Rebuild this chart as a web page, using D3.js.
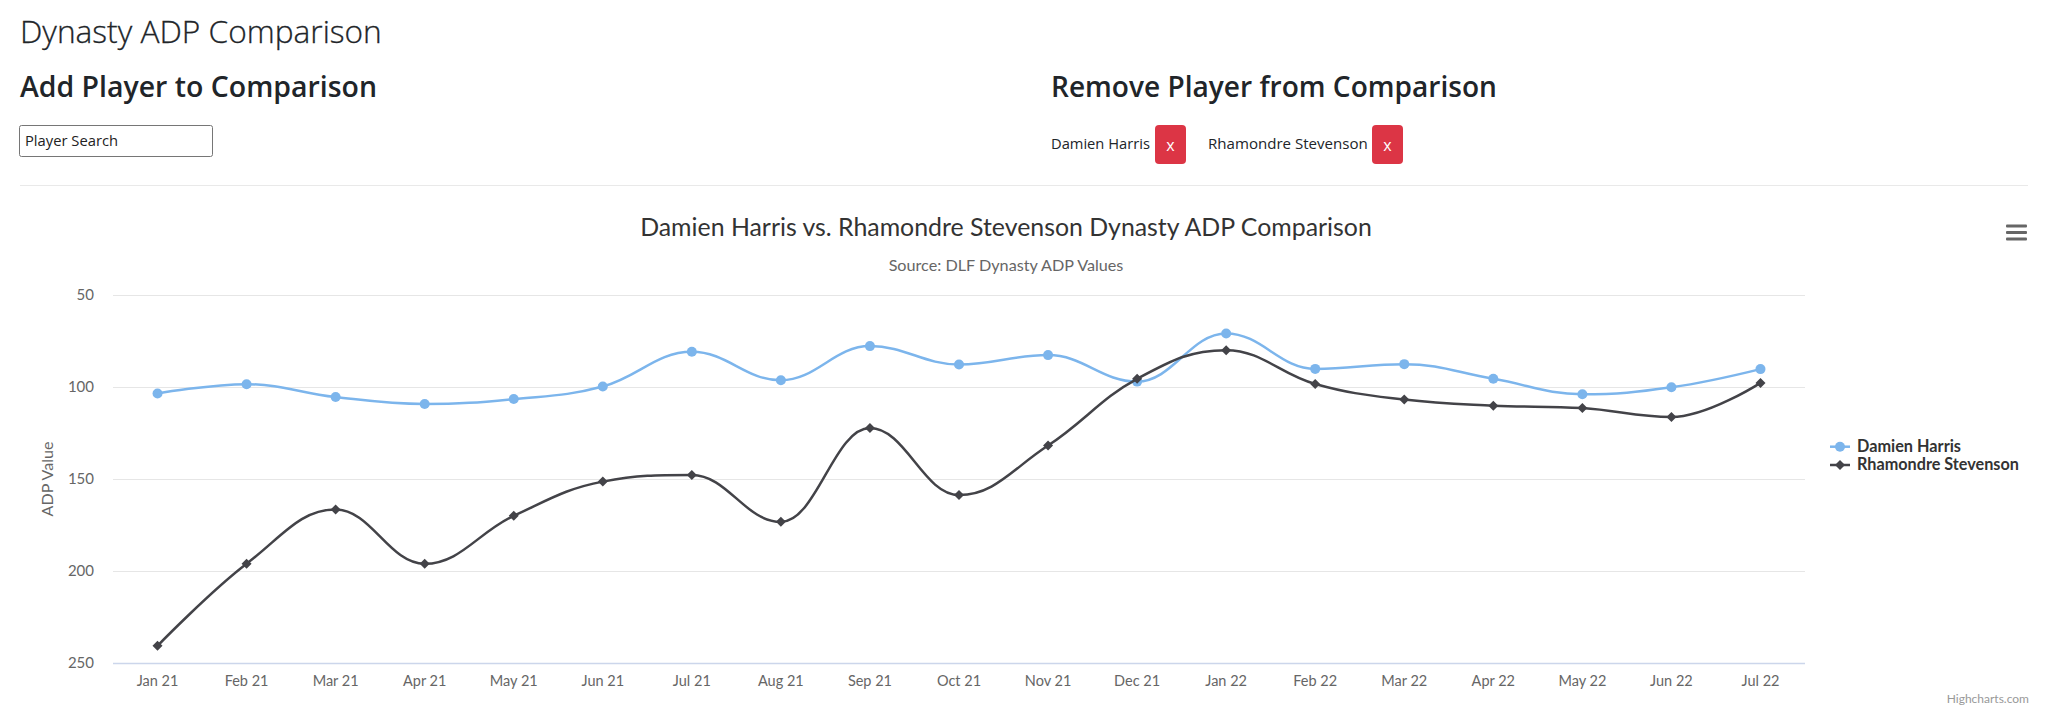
<!DOCTYPE html>
<html>
<head>
<meta charset="utf-8">
<script src="https://cdn.jsdelivr.net/npm/d3@7"></script>
<style>
  html, body { margin: 0; padding: 0; background: #fff; }
  svg { display: block; }
</style>
</head>
<body>
<script>
// ---------- data ----------
const categories = ["Jan 21","Feb 21","Mar 21","Apr 21","May 21","Jun 21","Jul 21","Aug 21","Sep 21","Oct 21","Nov 21","Dec 21","Jan 22","Feb 22","Mar 22","Apr 22","May 22","Jun 22","Jul 22"];
const harrisValues = [103.6, 98.5, 105.5, 109.3, 106.6, 99.8, 80.9, 96.4, 77.8, 87.8, 82.7, 97.1, 70.9, 90.2, 87.6, 95.6, 104.0, 100.2, 90.3];
const stevensonValues = [240.8, 196.2, 166.7, 196.2, 170.1, 151.5, 147.9, 173.4, 122.4, 158.8, 131.9, 95.6, 80.0, 98.4, 106.9, 110.2, 111.5, 116.4, 97.8];
const seriesNames = ["Damien Harris", "Rhamondre Stevenson"];
const yTicks = [50, 100, 150, 200, 250];
const pageTitle = "Dynasty ADP Comparison";
const addHeading = "Add Player to Comparison";
const removeHeading = "Remove Player from Comparison";
const searchPlaceholder = "Player Search";
const chartTitle = "Damien Harris vs. Rhamondre Stevenson Dynasty ADP Comparison";
const chartSubtitle = "Source: DLF Dynasty ADP Values";
const yAxisTitle = "ADP Value";
const creditText = "Highcharts.com";

// ---------- helpers ----------
const W = 2048, H = 718;
const svg = d3.select("body").append("svg").attr("width", W).attr("height", H);

function fit(sel, width) {
  const base = parseFloat(sel.attr("font-size"));
  const len = sel.node().getComputedTextLength();
  if (len > 0) sel.attr("font-size", (base * width / len).toFixed(2));
  return sel;
}

// Highcharts-like spline as a d3 curve
function HCSpline(context) { this._context = context; }
HCSpline.prototype = {
  areaStart() { this._line = 0; },
  areaEnd() { this._line = NaN; },
  lineStart() { this._pts = []; },
  point(x, y) { this._pts.push([+x, +y]); },
  lineEnd() {
    const p = this._pts, n = p.length, ctx = this._context;
    if (!n) return;
    const sm = 1.5, den = sm + 1;
    const lc = new Array(n), rc = new Array(n);
    for (let i = 1; i < n - 1; i++) {
      const [lx, ly] = p[i - 1], [x, y] = p[i], [nx, ny] = p[i + 1];
      let lcx = (sm * x + lx) / den, lcy = (sm * y + ly) / den;
      let rcx = (sm * x + nx) / den, rcy = (sm * y + ny) / den;
      if (rcx !== lcx) {
        const corr = ((rcy - lcy) * (rcx - x)) / (rcx - lcx) + y - rcy;
        lcy += corr; rcy += corr;
      }
      if (lcy > ly && lcy > y) { lcy = Math.max(ly, y); rcy = 2 * y - lcy; }
      else if (lcy < ly && lcy < y) { lcy = Math.min(ly, y); rcy = 2 * y - lcy; }
      if (rcy > ny && rcy > y) { rcy = Math.max(ny, y); lcy = 2 * y - rcy; }
      else if (rcy < ny && rcy < y) { rcy = Math.min(ny, y); lcy = 2 * y - rcy; }
      lc[i] = [lcx, lcy]; rc[i] = [rcx, rcy];
    }
    ctx.moveTo(p[0][0], p[0][1]);
    for (let i = 1; i < n; i++) {
      const a = rc[i - 1] || p[i - 1], b = lc[i] || p[i];
      ctx.bezierCurveTo(a[0], a[1], b[0], b[1], p[i][0], p[i][1]);
    }
  }
};
const hcSpline = ctx => new HCSpline(ctx);

// ---------- page header ----------
const pageFont = "'Open Sans', 'Noto Sans', sans-serif";
fit(svg.append("text").attr("x", 20).attr("y", 43).attr("font-family", pageFont)
  .attr("font-weight", 300).attr("font-size", 32).attr("fill", "#212529").attr("stroke", "#212529").attr("stroke-width", 0.3).text(pageTitle), 362);
fit(svg.append("text").attr("x", 20).attr("y", 96.5).attr("font-family", pageFont)
  .attr("font-weight", 600).attr("font-size", 28).attr("fill", "#212529").text(addHeading), 357);
fit(svg.append("text").attr("x", 1051).attr("y", 96.5).attr("font-family", pageFont)
  .attr("font-weight", 600).attr("font-size", 28).attr("fill", "#212529").text(removeHeading), 446);

svg.append("rect").attr("x", 19.5).attr("y", 125.5).attr("width", 193).attr("height", 31)
  .attr("rx", 2).attr("fill", "#fff").attr("stroke", "#767676").attr("stroke-width", 1);
fit(svg.append("text").attr("x", 25).attr("y", 146).attr("font-family", pageFont)
  .attr("font-size", 13.3).attr("fill", "#222").text(searchPlaceholder), 93);

const chips = [
  { name: seriesNames[0], x: 1051, w: 99, bx: 1155 },
  { name: seriesNames[1], x: 1208, w: 160, bx: 1372 }
];
chips.forEach(c => {
  fit(svg.append("text").attr("x", c.x).attr("y", 149).attr("font-family", pageFont)
    .attr("font-size", 15).attr("fill", "#212529").text(c.name), c.w);
  svg.append("rect").attr("x", c.bx).attr("y", 125).attr("width", 31).attr("height", 39)
    .attr("rx", 4).attr("fill", "#dc3545");
  svg.append("text").attr("x", c.bx + 15.5).attr("y", 151).attr("text-anchor", "middle")
    .attr("font-family", pageFont).attr("font-size", 16).attr("fill", "#fff").text("x");
});

svg.append("line").attr("x1", 20).attr("x2", 2028).attr("y1", 185.5).attr("y2", 185.5)
  .attr("stroke", "#e9e9e9").attr("stroke-width", 1);

// ---------- chart ----------
const chartFont = "Lato, 'Open Sans', sans-serif";
const plot = { left: 113, right: 1805, top: 295, bottom: 662.7 };

fit(svg.append("text").attr("x", 1006).attr("y", 236).attr("text-anchor", "middle")
  .attr("font-family", chartFont).attr("font-size", 24).attr("fill", "#333333").text(chartTitle), 732);
fit(svg.append("text").attr("x", 1006).attr("y", 271).attr("text-anchor", "middle")
  .attr("font-family", chartFont).attr("font-size", 15).attr("fill", "#666666").text(chartSubtitle), 235);

// hamburger
[224.5, 231, 237.5].forEach(y => svg.append("rect").attr("x", 2006).attr("y", y)
  .attr("width", 21).attr("height", 3).attr("rx", 1).attr("fill", "#666"));

const x = d3.scaleBand().domain(categories).range([plot.left, plot.right]).padding(0);
const cx = c => x(c) + x.bandwidth() / 2;
const y = d3.scaleLinear().domain([50, 250]).range([plot.top, plot.bottom]);

const g = svg.append("g");
g.selectAll("line.grid").data(yTicks).join("line").attr("class", "grid")
  .attr("x1", plot.left).attr("x2", plot.right)
  .attr("y1", d => Math.round(y(d)) + 0.5).attr("y2", d => Math.round(y(d)) + 0.5)
  .attr("stroke", "#e6e6e6").attr("stroke-width", 1);
g.append("line").attr("x1", plot.left).attr("x2", plot.right)
  .attr("y1", Math.round(y(250)) + 0.5).attr("y2", Math.round(y(250)) + 0.5)
  .attr("stroke", "#ccd6eb").attr("stroke-width", 1.3);

g.selectAll("text.ytick").data(yTicks).join("text").attr("class", "ytick")
  .attr("x", 94).attr("y", d => y(d) + 5).attr("text-anchor", "end")
  .attr("font-family", chartFont).attr("font-size", 15).attr("fill", "#666666").text(d => d);

fit(svg.append("text").attr("transform", "translate(53,479) rotate(-90)").attr("text-anchor", "middle")
  .attr("font-family", chartFont).attr("font-size", 15).attr("fill", "#666666").text(yAxisTitle), 75);

g.selectAll("text.xtick").data(categories).join("text").attr("class", "xtick")
  .attr("x", d => cx(d)).attr("y", 686).attr("text-anchor", "middle")
  .attr("font-family", chartFont).attr("font-size", 14.5).attr("fill", "#666666").text(d => d);

const series = [
  { name: seriesNames[0], values: harrisValues, color: "#7cb5ec", marker: "circle" },
  { name: seriesNames[1], values: stevensonValues, color: "#434348", marker: "diamond" }
];
const line = d3.line().x((d, i) => cx(categories[i])).y(d => y(d)).curve(hcSpline);
const circleSym = d3.symbol(d3.symbolCircle, Math.PI * 5 * 5);
const diamondSym = d3.symbol(d3.symbolSquare, 2 * 5 * 5);

function drawMarker(sel, s, px, py) {
  if (s.marker === "circle") {
    sel.append("path").attr("d", circleSym()).attr("transform", `translate(${px},${py})`).attr("fill", s.color);
  } else {
    sel.append("path").attr("d", diamondSym()).attr("transform", `translate(${px},${py}) rotate(45)`).attr("fill", s.color);
  }
}

series.forEach(s => {
  const sg = svg.append("g");
  sg.append("path").attr("d", line(s.values)).attr("fill", "none")
    .attr("stroke", s.color).attr("stroke-width", 2.5).attr("stroke-linejoin", "round").attr("stroke-linecap", "round");
  s.values.forEach((v, i) => drawMarker(sg, s, cx(categories[i]), y(v)));
});

// legend
const legendRows = [446.7, 465];
const legendWidths = [104, 162];
series.forEach((s, i) => {
  const lg = svg.append("g");
  const ly = legendRows[i];
  lg.append("line").attr("x1", 1830).attr("x2", 1850).attr("y1", ly).attr("y2", ly)
    .attr("stroke", s.color).attr("stroke-width", 2.5);
  drawMarker(lg, s, 1840, ly);
  fit(lg.append("text").attr("x", 1857).attr("y", ly + 5).attr("font-family", chartFont)
    .attr("font-weight", "bold").attr("font-size", 15).attr("fill", "#333333").text(s.name), legendWidths[i]);
});

svg.append("text").attr("x", 2029).attr("y", 703).attr("text-anchor", "end")
  .attr("font-family", chartFont).attr("font-size", 12).attr("fill", "#999999").text(creditText);
</script>
</body>
</html>
